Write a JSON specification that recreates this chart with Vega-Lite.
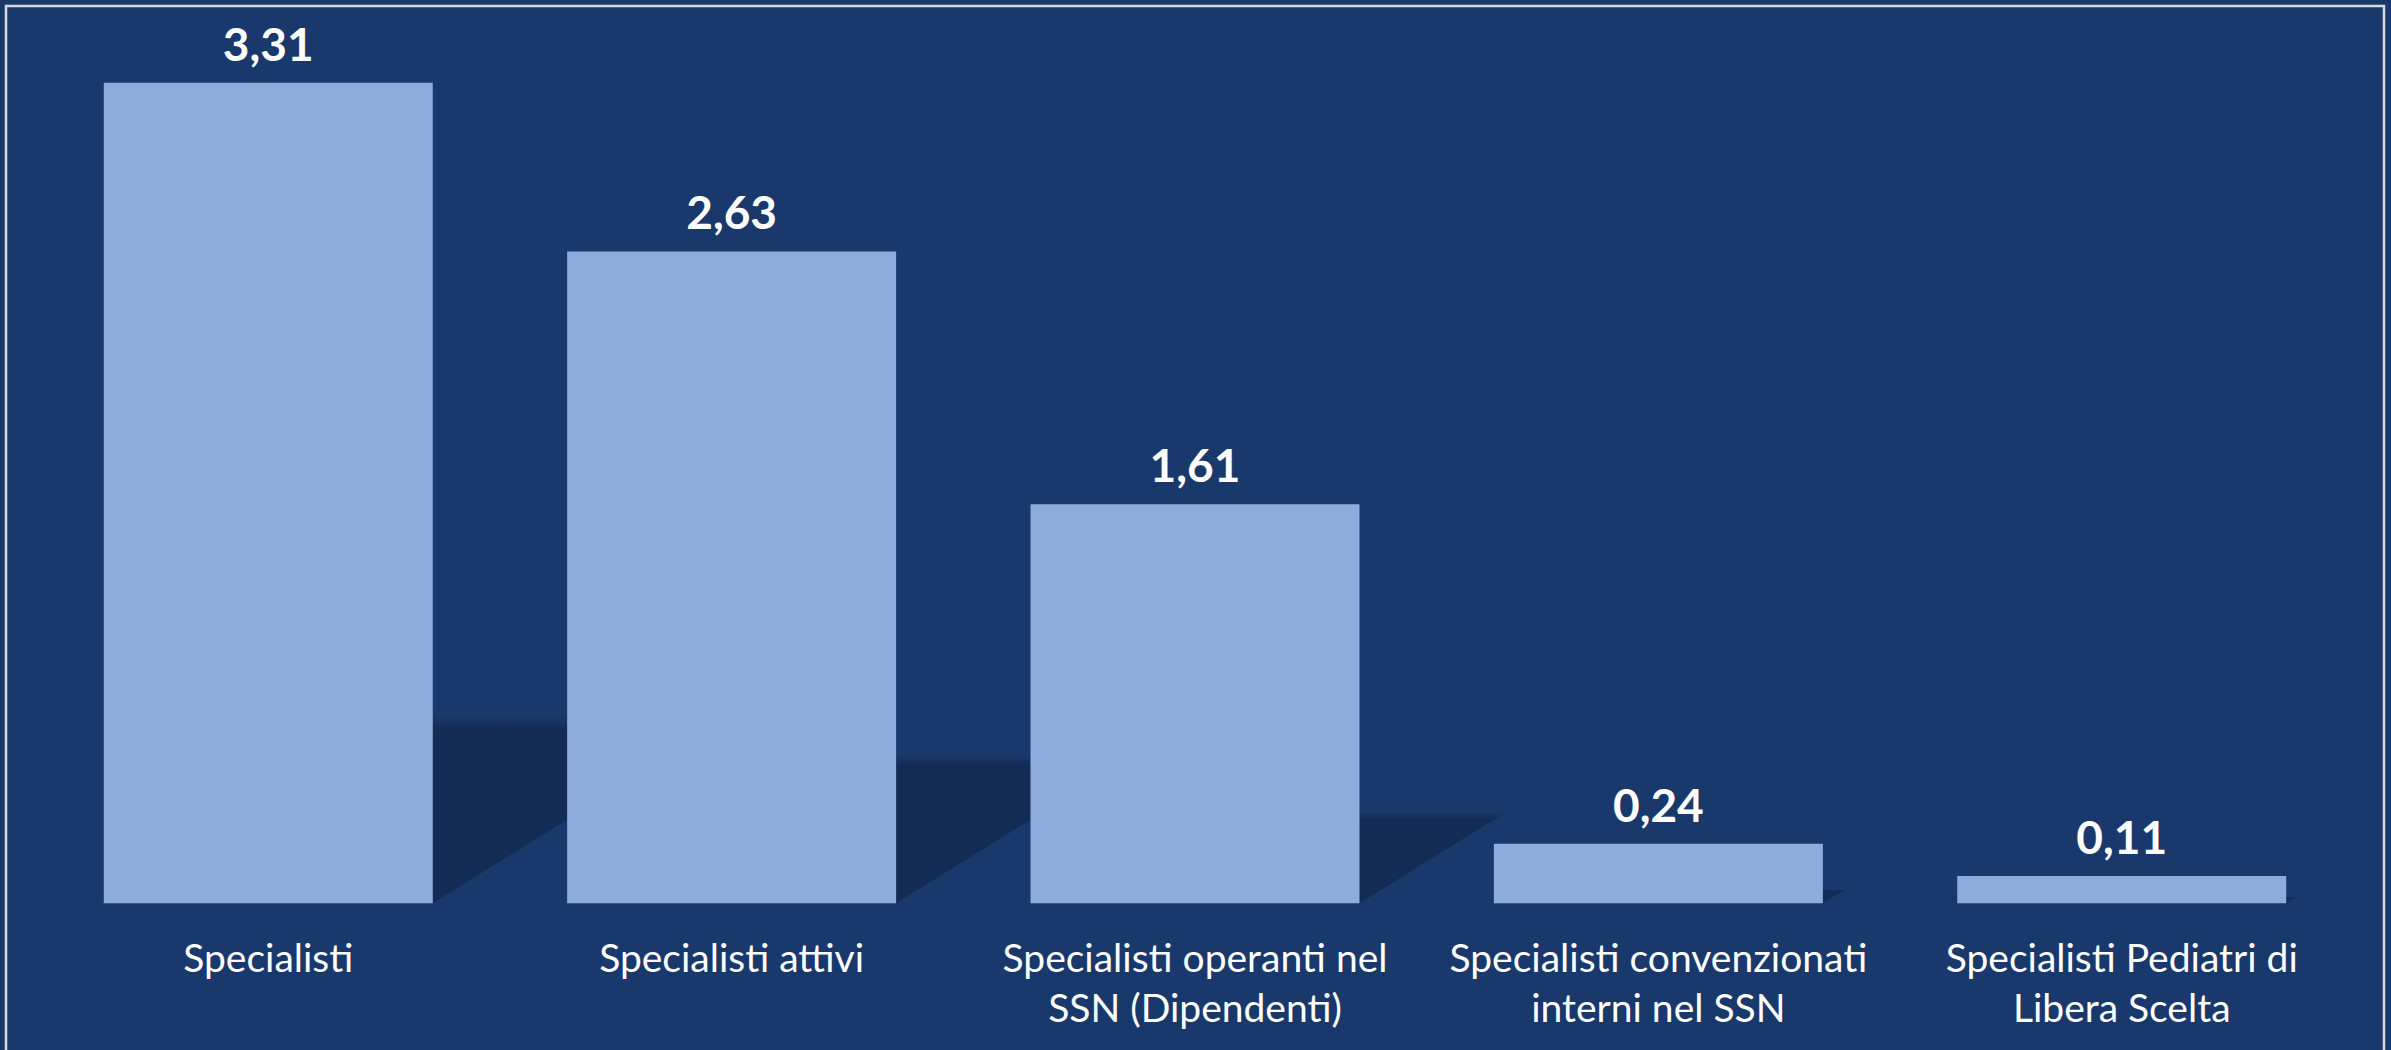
{
  "$schema": "https://vega.github.io/schema/vega-lite/v6.json",
  "width": 2378,
  "height": 1046,
  "autosize": {"type": "none"},
  "padding": {"left": 6, "top": 6, "right": 7, "bottom": 0},
  "background": "#19386B",
  "config": {
    "view": {"stroke": "#D9D9D9", "strokeWidth": 2.5},
    "locale": {"number": {"decimal": ",", "thousands": ".", "grouping": [3], "currency": ["", " €"]}}
  },
  "data": {
    "values": [
      {"categoria": "Specialisti", "valore": 3.31},
      {"categoria": "Specialisti attivi", "valore": 2.63},
      {"categoria": "Specialisti operanti nel SSN (Dipendenti)", "valore": 1.61},
      {"categoria": "Specialisti convenzionati interni nel SSN", "valore": 0.24},
      {"categoria": "Specialisti Pediatri di Libera Scelta", "valore": 0.11}
    ]
  },
  "encoding": {
    "x": {
      "field": "categoria",
      "type": "nominal",
      "sort": null,
      "scale": {"paddingInner": 0.29, "paddingOuter": 0.211},
      "axis": {
        "orient": "bottom",
        "offset": -148,
        "title": null,
        "domain": false,
        "ticks": false,
        "grid": false,
        "labelAngle": 0,
        "labelFont": "Lato",
        "labelFontSize": 39,
        "labelColor": "#FFFFFF",
        "labelPadding": 36,
        "labelLineHeight": 50,
        "labelLimit": 0,
        "labelExpr": "datum.label == 'Specialisti operanti nel SSN (Dipendenti)' ? ['Specialisti operanti nel', 'SSN (Dipendenti)'] : datum.label == 'Specialisti convenzionati interni nel SSN' ? ['Specialisti convenzionati', 'interni nel SSN'] : datum.label == 'Specialisti Pediatri di Libera Scelta' ? ['Specialisti Pediatri di', 'Libera Scelta'] : datum.label"
      }
    }
  },
  "layer": [
    {
      "mark": {
        "type": "point",
        "shape": "M0,0 L0,-1 L1.61,-1 Z",
        "filled": true,
        "opacity": 1,
        "strokeWidth": 0,
        "xOffset": 164.5,
        "color": {
          "gradient": "linear",
          "x1": 0, "y1": 0, "x2": 0, "y2": 1,
          "stops": [
            {"offset": 0, "color": "#19386B"},
            {"offset": 0.07, "color": "#132C55"},
            {"offset": 1, "color": "#132C55"}
          ]
        }
      },
      "encoding": {
        "y": {"datum": 0, "type": "quantitative", "scale": {"domain": [-0.6, 3.62], "nice": false, "zero": false}, "axis": null},
        "size": {
          "field": "valore",
          "type": "quantitative",
          "scale": {"type": "pow", "exponent": 2, "domain": [0, 3.31], "range": [0, 139876]},
          "legend": null
        }
      }
    },
    {
      "mark": {"type": "bar", "color": "#8EABDD"},
      "encoding": {
        "y": {"field": "valore", "type": "quantitative", "scale": {"domain": [-0.6, 3.62], "nice": false, "zero": false}, "axis": null},
        "y2": {"datum": 0}
      }
    },
    {
      "mark": {
        "type": "text",
        "font": "Lato",
        "fontWeight": "bold",
        "fontSize": 46,
        "color": "#FFFFFF",
        "baseline": "alphabetic",
        "align": "center",
        "dy": -22
      },
      "encoding": {
        "y": {"field": "valore", "type": "quantitative", "scale": {"domain": [-0.6, 3.62], "nice": false, "zero": false}, "axis": null},
        "text": {"field": "valore", "type": "quantitative", "format": ".2f"}
      }
    }
  ]
}
